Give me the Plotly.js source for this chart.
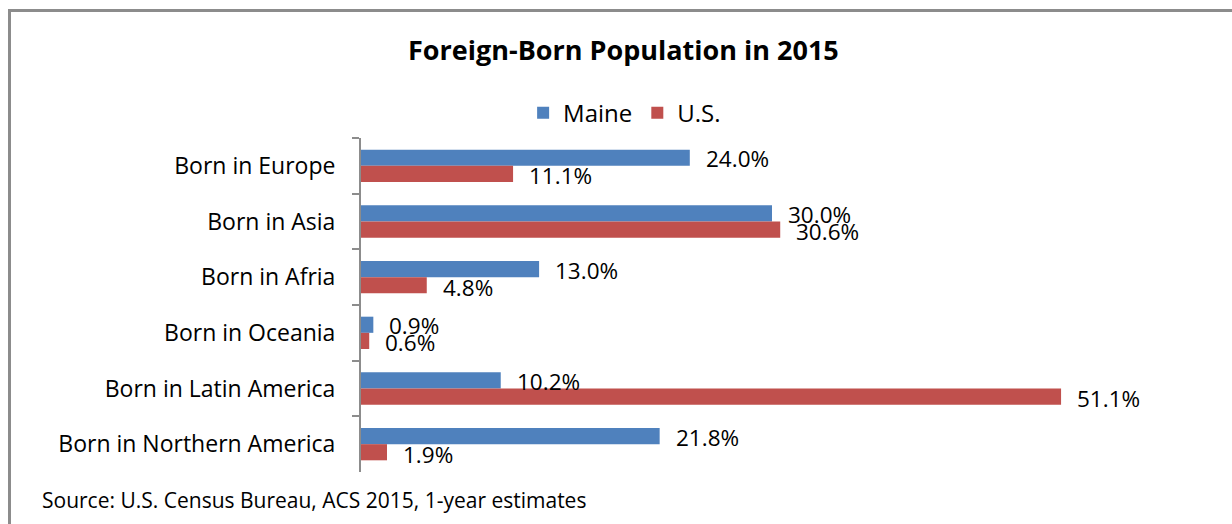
<!DOCTYPE html>
<html>
<head>
<meta charset="utf-8">
<script src="https://cdn.plot.ly/plotly-3.0.1.min.js"></script>
<style>
  html, body { margin: 0; padding: 0; background: #fff; overflow: hidden; }
  #wrap { position: relative; width: 1232px; height: 524px; }
  #chart { width: 1232px; height: 524px; }
  #frame { position: absolute; left: 8px; top: 9px; width: 1400px; height: 700px;
           border: 3px solid #8c8c8c; pointer-events: none; box-sizing: border-box; }
</style>
</head>
<body>
<div id="wrap">
  <div id="chart"></div>
  <div id="frame"></div>
</div>
<script>
const categories = ["Born in Europe", "Born in Asia", "Born in Afria", "Born in Oceania",
                    "Born in Latin America", "Born in Northern America"];
const maineValues = [24.0, 30.0, 13.0, 0.9, 10.2, 21.8];
const usValues = [11.1, 30.6, 4.8, 0.6, 51.1, 1.9];
const seriesNames = ["Maine", "U.S."];
const titleText = "Foreign-Born Population in 2015";
const sourceText = "Source: U.S. Census Bureau, ACS 2015, 1-year estimates";

const FONT = "'Open Sans', Lato, sans-serif";
const BLUE = "#4F81BD", RED = "#C0504D";

const traces = [
  { type: "bar", orientation: "h", name: seriesNames[0], y: categories, x: maineValues,
    marker: { color: BLUE }, hoverinfo: "skip" },
  { type: "bar", orientation: "h", name: seriesNames[1], y: categories, x: usValues,
    marker: { color: RED }, hoverinfo: "skip" }
];

const annotations = [];
categories.forEach((c, i) => {
  annotations.push({ x: maineValues[i], y: c, xref: "x", yref: "y", text: maineValues[i].toFixed(1) + "%",
    showarrow: false, xanchor: "left", yanchor: "middle", xshift: 14, yshift: 7,
    font: { family: FONT, size: 22.5, color: "#000" } });
  annotations.push({ x: usValues[i], y: c, xref: "x", yref: "y", text: usValues[i].toFixed(1) + "%",
    showarrow: false, xanchor: "left", yanchor: "middle", xshift: 14, yshift: -10,
    font: { family: FONT, size: 22.5, color: "#000" } });
});
annotations.push({ text: sourceText, xref: "paper", yref: "paper", x: -0.39, y: -0.084,
  xanchor: "left", yanchor: "middle", showarrow: false,
  font: { family: FONT, size: 21, color: "#000" } });

const layout = {
  width: 1232, height: 524,
  margin: { l: 361, r: 49, t: 138, b: 52, pad: 0 },
  paper_bgcolor: "#fff", plot_bgcolor: "#fff",
  font: { family: FONT, color: "#000" },
  title: { text: "<b>" + titleText + "</b>", x: 0.506, xref: "container", y: 0.903, yref: "container",
           xanchor: "center", yanchor: "middle", font: { family: FONT, size: 27, color: "#000" } },
  barmode: "group", bargap: 0.42, bargroupgap: 0,
  showlegend: true,
  legend: { orientation: "h", x: 0.507, xref: "container", xanchor: "center",
            y: 0.784, yref: "container", yanchor: "middle",
            font: { family: FONT, size: 24, color: "#000" }, traceorder: "normal",
            itemwidth: 30, bgcolor: "rgba(0,0,0,0)" },
  xaxis: { range: [0, 60], visible: false, showgrid: false, zeroline: false, fixedrange: true },
  yaxis: { type: "category", autorange: "reversed", showgrid: false, zeroline: false,
           showline: true, linecolor: "#8c8c8c", linewidth: 2,
           ticks: "outside", tickson: "boundaries", ticklen: 7, tickcolor: "#8c8c8c", tickwidth: 2,
           ticklabelstandoff: 19,
           tickfont: { family: FONT, size: 23, color: "#000" }, fixedrange: true },
  annotations: annotations
};

Plotly.newPlot("chart", traces, layout, { displayModeBar: false, staticPlot: true });
</script>
</body>
</html>
